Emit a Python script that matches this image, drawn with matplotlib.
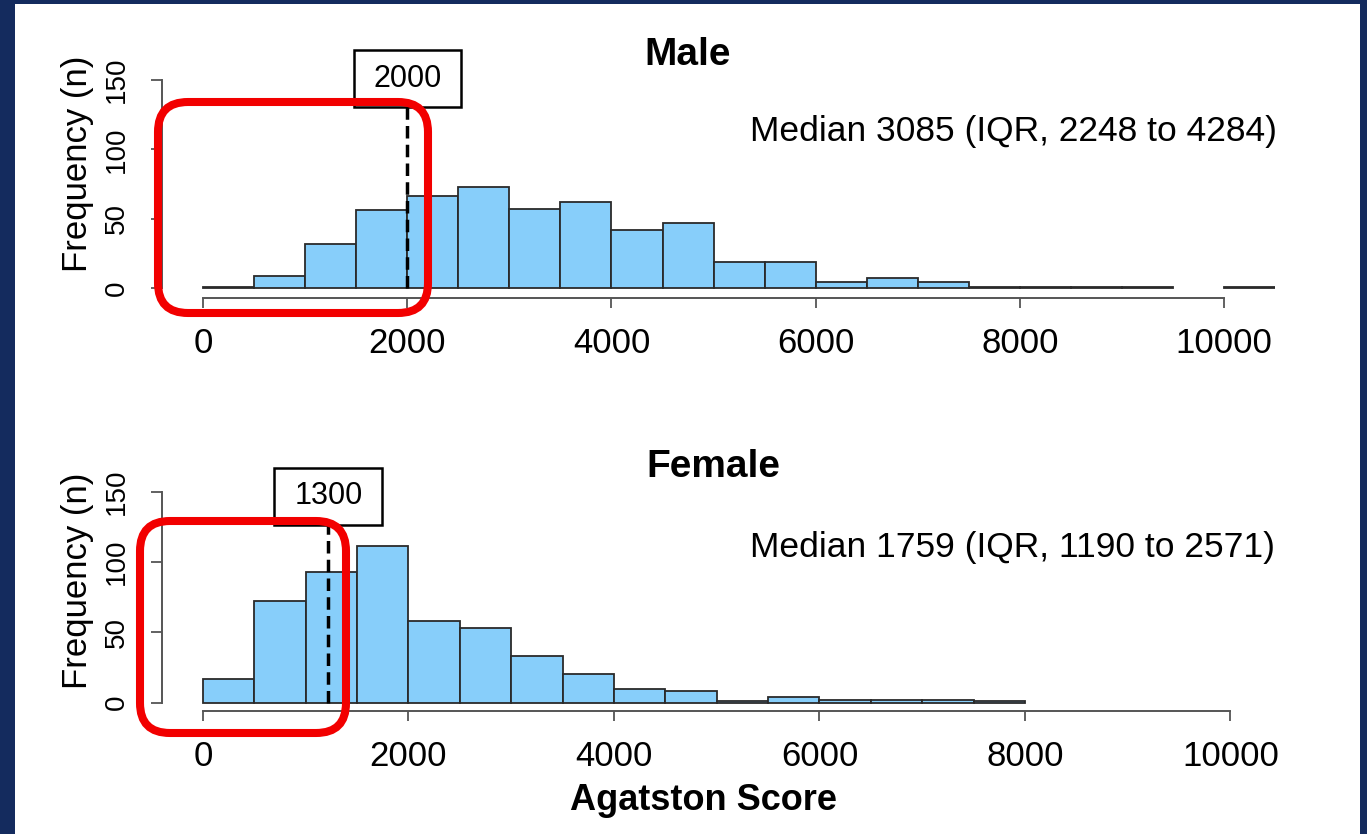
import matplotlib
matplotlib.use("Agg")
import matplotlib.pyplot as plt
from matplotlib.patches import Rectangle, FancyBboxPatch
import numpy as np

plt.rcParams["font.family"] = ["Liberation Sans", "DejaVu Sans"]

# Agatston score histograms, 500-wide bins starting at 0
bin_width = 500
male_counts = [1, 9, 32, 56, 66, 73, 57, 62, 42, 47, 19, 19, 4, 7, 4, 1, 1, 1, 1, 0, 1]
female_counts = [17, 72, 93, 111, 58, 53, 33, 20, 10, 8, 1, 4, 2, 2, 2, 1]

male_cut_x = 2000
male_cut_label = "2000"
female_cut_x = 1220
female_cut_label = "1300"

male_median = "Median 3085 (IQR, 2248 to 4284)"
female_median = "Median 1759 (IQR, 1190 to 2571)"

x_ticks = [0, 2000, 4000, 6000, 8000, 10000]
y_ticks = [0, 50, 100, 150]

W, H = 1367, 834


def px(x, y):
    # pixel position (top-left origin) -> figure fraction
    return x / W, 1 - y / H


fig = plt.figure(figsize=(W / 100, H / 100), dpi=100, facecolor="#142b5e")
fig.add_artist(Rectangle(px(15, H), (1360 - 15) / W, 1 - 4 / H,
                         facecolor="white", edgecolor="none", zorder=-10))

ax_m = fig.add_axes([0.1187, 0.643, 0.8141, 0.2777])
ax_f = fig.add_axes([0.1184, 0.1474, 0.8193, 0.2801])
ax_m.set_ylim(-7, 160)
ax_f.set_ylim(-6, 160)


def draw_hist(ax, counts):
    counts = np.array(counts)
    lefts = np.arange(len(counts)) * bin_width
    keep = counts > 0
    ax.bar(lefts[keep], counts[keep], width=bin_width, align="edge",
           color="#87cefa", edgecolor="#2a2a2a", linewidth=1.3, zorder=2)
    ax.set_xlim(-400, 10500)
    for side in ["top", "right"]:
        ax.spines[side].set_visible(False)
    ax.spines["left"].set_bounds(0, 150)
    ax.spines["bottom"].set_bounds(0, 10000)
    for side in ["left", "bottom"]:
        ax.spines[side].set_color("#555555")
        ax.spines[side].set_linewidth(1.4)
    ax.set_xticks(x_ticks)
    ax.set_yticks(y_ticks)
    ax.tick_params(axis="x", labelsize=25, length=7, width=1.3, pad=14, color="#555555")
    ax.tick_params(axis="y", labelsize=20, length=8, width=1.3, pad=15, color="#555555",
                   labelrotation=90)
    for lab in ax.get_yticklabels():
        lab.set_va("center")
    ax.set_facecolor("none")


def mark_cut(ax, x, label, box_bottom, box_w, box_h):
    ax.plot([x, x], [0, box_bottom], color="black", lw=2.5,
            linestyle=(0, (3.6, 1.8)), zorder=4)
    ax.add_patch(Rectangle((x - box_w / 2, box_bottom), box_w, box_h,
                           facecolor="white", edgecolor="black", lw=1.8,
                           clip_on=False, zorder=5))
    ax.text(x, box_bottom + box_h / 2, label, ha="center", va="center",
            fontsize=22, clip_on=False, zorder=6)


draw_hist(ax_m, male_counts)
draw_hist(ax_f, female_counts)
mark_cut(ax_m, male_cut_x, male_cut_label, 130.5, 1048, 41)
mark_cut(ax_f, female_cut_x, female_cut_label, 126.3, 1051, 40.5)

# titles and annotations
fig.text(*px(688, 55), "Male", fontsize=28, fontweight="bold", ha="center", va="center")
fig.text(*px(713, 467), "Female", fontsize=28, fontweight="bold", ha="center", va="center")
fig.text(*px(750, 131), male_median, fontsize=25.5, ha="left", va="center")
fig.text(*px(750, 548), female_median, fontsize=25.5, ha="left", va="center")
fig.text(*px(77, 164), "Frequency (n)", fontsize=25, rotation=90, ha="center", va="center")
fig.text(*px(77, 581), "Frequency (n)", fontsize=25, rotation=90, ha="center", va="center")
fig.text(*px(704, 801), "Agatston Score", fontsize=26, fontweight="bold", ha="center", va="center")

# red highlight boxes (inches from bottom-left)
for x0, y0, w, h in [(1.58, 5.21, 2.70, 2.11), (1.40, 1.01, 2.06, 2.12)]:
    fig.add_artist(FancyBboxPatch((x0, y0), w, h,
                                  boxstyle="round,pad=0,rounding_size=0.3",
                                  transform=fig.dpi_scale_trans, fill=False,
                                  edgecolor="#f20000", linewidth=5.8, zorder=20))

fig.savefig("out.png", dpi=100, facecolor=fig.get_facecolor())
